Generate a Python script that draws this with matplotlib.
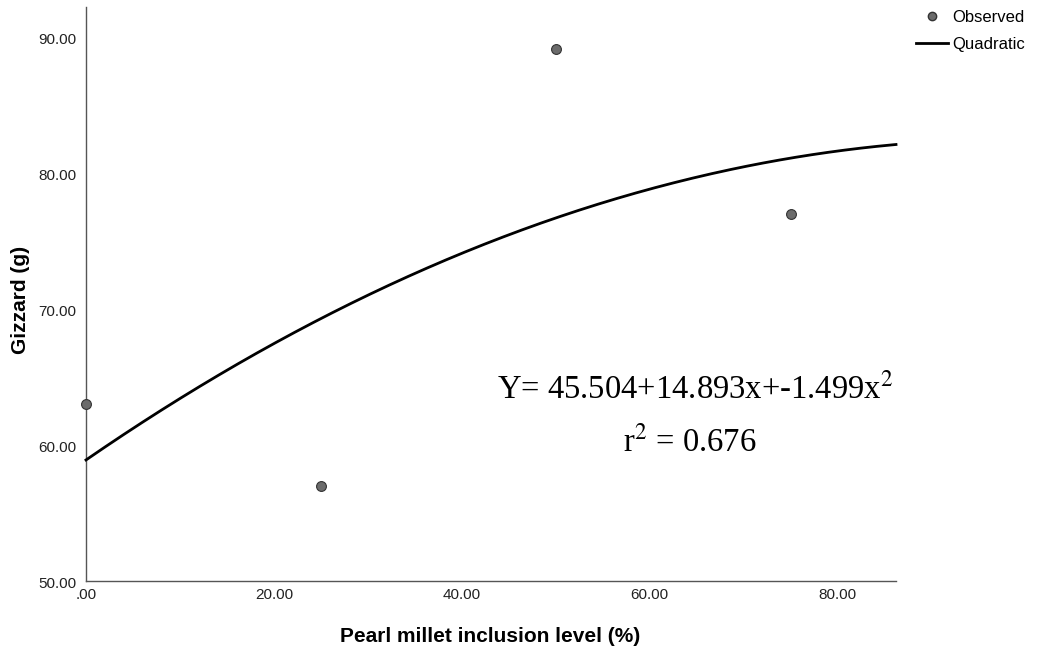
import numpy as np
import matplotlib
matplotlib.use("Agg")
import matplotlib.pyplot as plt
import matplotlib.transforms as mtransforms
from matplotlib.lines import Line2D

# Data
levels = [0, 25, 50, 75]          # Pearl millet inclusion level (%)
gizzard = [63, 57, 89.1, 77]      # Observed gizzard weight (g)
coef = [45.504, 14.893, -1.499]   # Quadratic coefficients in level index (1..4)
x_ticks = [0, 20, 40, 60, 80]
x_ticklabels = [".00", "20.00", "40.00", "60.00", "80.00"]
y_ticks = [50, 60, 70, 80, 90]
y_ticklabels = ["50.00", "60.00", "70.00", "80.00", "90.00"]

plt.rcParams['font.family'] = ['Liberation Sans', 'DejaVu Sans']

fig = plt.figure(figsize=(10.37, 6.59), dpi=100)
ax = fig.add_axes([86/1037, 1-581/659, (896-86)/1037, (581-7)/659])

xmin, xmax = 0, 86.2
ymin, ymax = 50, 92.2
ax.set_xlim(xmin, xmax)
ax.set_ylim(ymin, ymax)

xs = np.linspace(xmin, xmax, 300)
t = xs / 25.0 + 1.0
ys = coef[0] + coef[1] * t + coef[2] * t ** 2
ax.plot(xs, ys, color='black', lw=2.0, zorder=3, clip_on=False)

ax.scatter(levels, gizzard, s=50, facecolor='#6b6b6b', edgecolor='#333333',
           linewidth=0.8, zorder=4, clip_on=False)

for side in ['top', 'right']:
    ax.spines[side].set_visible(False)
for side in ['left', 'bottom']:
    ax.spines[side].set_color('#555555')
    ax.spines[side].set_linewidth(1.0)

ax.set_xticks(x_ticks)
ax.set_xticklabels(x_ticklabels)
ax.set_yticks(y_ticks)
ax.set_yticklabels(y_ticklabels)
ax.tick_params(axis='both', length=0, labelsize=11, colors='#222222')
ax.tick_params(axis='x', pad=5)
ax.tick_params(axis='y', pad=7)
offset = mtransforms.ScaledTranslation(0, -2/100, fig.dpi_scale_trans)
for lbl in ax.get_yticklabels():
    lbl.set_transform(lbl.get_transform() + offset)

fig.text(490/1037, 1-637/659, 'Pearl millet inclusion level (%)', fontsize=15,
         fontweight='bold', ha='center', va='center')
fig.text(21/1037, 1-300/659, 'Gizzard (g)', fontsize=15, fontweight='bold',
         ha='center', va='center', rotation=90)

serif = ['Liberation Serif', 'DejaVu Serif']
fig.text(497/1037, 1-398/659, 'Y= 45.504+14.893x+-1.499x$^{2}$', fontsize=23.5,
         family=serif, ha='left', va='baseline', math_fontfamily='stix')
fig.text(690/1037, 1-451/659, 'r$^{2}$ = 0.676', fontsize=23.5, family=serif,
         ha='center', va='baseline', math_fontfamily='stix')

handles = [Line2D([], [], marker='o', linestyle='none', markerfacecolor='#6b6b6b',
                  markeredgecolor='#333333', markersize=6),
           Line2D([], [], color='black', lw=2.0)]
fig.legend(handles, ['Observed', 'Quadratic'], loc='upper left',
           bbox_to_anchor=(916/1037, 1-10/659), frameon=False, fontsize=12,
           handlelength=1.9, handletextpad=0.3, labelspacing=0.7, borderpad=0,
           borderaxespad=0)

fig.savefig('out.png', dpi=100)
